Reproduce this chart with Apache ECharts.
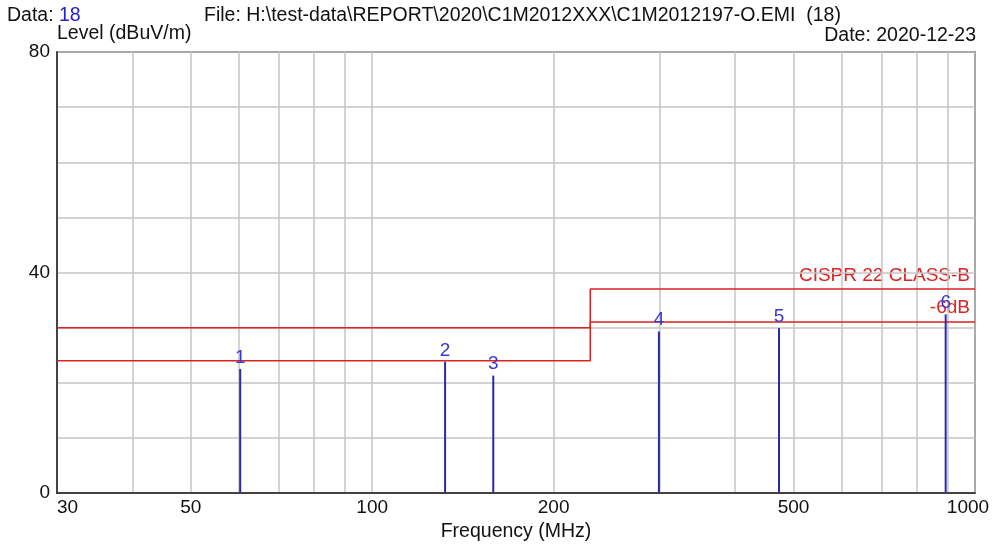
<!DOCTYPE html>
<html>
<head>
<meta charset="utf-8">
<script src="https://cdn.jsdelivr.net/npm/echarts@6/dist/echarts.min.js"></script>
<style>
  html, body { margin: 0; padding: 0; background: #fff; }
  #main { width: 994px; height: 545px; }
</style>
</head>
<body>
<div id="main"></div>
<script>
var chartDom = document.getElementById('main');
var myChart = echarts.init(chartDom);
var option;

// peaks (MHz, dBuV/m)
var peakFreq = [60.4, 132.1, 158.8, 299, 473, 894];
var peakLevel = [22.5, 23.8, 21.3, 29.3, 29.9, 32.4];

// CISPR 22 class B limit and limit - 6 dB
var limitFreq = [30, 230, 230, 1000];
var limitLevel = [30, 30, 37, 37];
var marginLevel = [24, 24, 31, 31];

var xLabels = [30, 50, 100, 200, 500, 1000];
var xGrid = [30, 40, 50, 60, 70, 80, 90, 100, 200, 300, 400, 500, 600, 700, 800, 900, 1000];
var yLabels = [0, 40, 80];

function pairs(xs, ys) {
	return xs.map(function (x, i) { return [x, ys[i]]; });
}

var font = '"Liberation Sans", Arial, sans-serif';
var ink = '#111';
var fs = 19;
var hfs = 19.5;

function txt(x, y, s, color, align, size) {
	return {
		type: 'text', x: x, y: y,
		style: { text: s, fill: color, fontSize: size || hfs, fontFamily: font, align: align || 'left', verticalAlign: 'middle' }
	};
}

option = {
	animation: false,
	backgroundColor: '#fff',
	textStyle: { fontFamily: font },
	grid: {
		left: 57,
		right: 19,
		top: 52,
		bottom: 52,
		outerBoundsMode: 'none',
		containLabel: false,
		show: true,
		borderColor: '#222',
		borderWidth: 1.5
	},
	xAxis: {
		type: 'log',
		logBase: 10,
		min: 30,
		max: 1000,
		name: 'Frequency (MHz)',
		nameLocation: 'middle',
		nameGap: 27,
		nameTextStyle: { color: ink, fontSize: hfs, fontFamily: font },
		axisLine: { show: true, lineStyle: { color: '#222', width: 1.5 } },
		axisTick: { show: false, customValues: xGrid },
		axisLabel: {
			customValues: xLabels,
			color: ink,
			fontSize: fs,
			fontFamily: font,
			margin: 5,
			alignMinLabel: 'left',
			formatter: function (v) {
				return v === 1000 ? '{m|1000}' : String(v);
			},
			rich: {
				m: { color: ink, fontSize: fs, fontFamily: font, padding: [0, 14, 0, 0] }
			}
		},
		splitLine: { show: true, lineStyle: { color: '#c4c4c4', width: 1.5 } }
	},
	yAxis: {
		type: 'value',
		min: 0,
		max: 80,
		interval: 10,
		axisLine: { show: true, lineStyle: { color: '#222', width: 1.5 } },
		axisTick: { show: false },
		axisLabel: {
			color: ink,
			fontSize: fs,
			fontFamily: font,
			margin: 7,
			formatter: function (v) {
				return yLabels.indexOf(v) >= 0 ? String(v) : '';
			}
		},
		splitLine: { show: true, lineStyle: { color: '#c4c4c4', width: 1.5 } }
	},
	graphic: [
		{
			type: 'text', x: 7, y: 16,
			style: {
				text: '{a|Data: }{b|18}',
				verticalAlign: 'middle',
				rich: {
					a: { fill: ink, fontSize: hfs, fontFamily: font },
					b: { fill: '#2222cc', fontSize: hfs, fontFamily: font }
				}
			}
		},
		txt(204, 16, 'File: H:\\test-data\\REPORT\\2020\\C1M2012XXX\\C1M2012197-O.EMI  (18)', ink),
		txt(57, 34, 'Level (dBuV/m)', ink),
		txt(976, 36, 'Date: 2020-12-23', ink, 'right'),
		txt(970, 276, 'CISPR 22 CLASS-B', '#dd2222', 'right', fs),
		txt(970, 308, '-6dB', '#dd2222', 'right', fs)
	],
	series: [
		{
			name: 'Limit',
			type: 'line',
			symbol: 'none',
			data: pairs(limitFreq, limitLevel),
			lineStyle: { color: '#dd2222', width: 1.5 },
			z: 3
		},
		{
			name: 'Limit -6dB',
			type: 'line',
			symbol: 'none',
			data: pairs(limitFreq, marginLevel),
			lineStyle: { color: '#dd2222', width: 1.5 },
			z: 3
		},
		{
			name: 'Peaks',
			type: 'bar',
			barWidth: 2,
			data: pairs(peakFreq, peakLevel),
			itemStyle: { color: '#2a2aa8' },
			label: {
				show: true,
				position: 'top',
				distance: 2,
				color: '#3838d0',
				fontSize: fs,
				fontFamily: font,
				formatter: function (p) { return String(p.dataIndex + 1); }
			},
			z: 4
		}
	]
};

option && myChart.setOption(option);
</script>
</body>
</html>
